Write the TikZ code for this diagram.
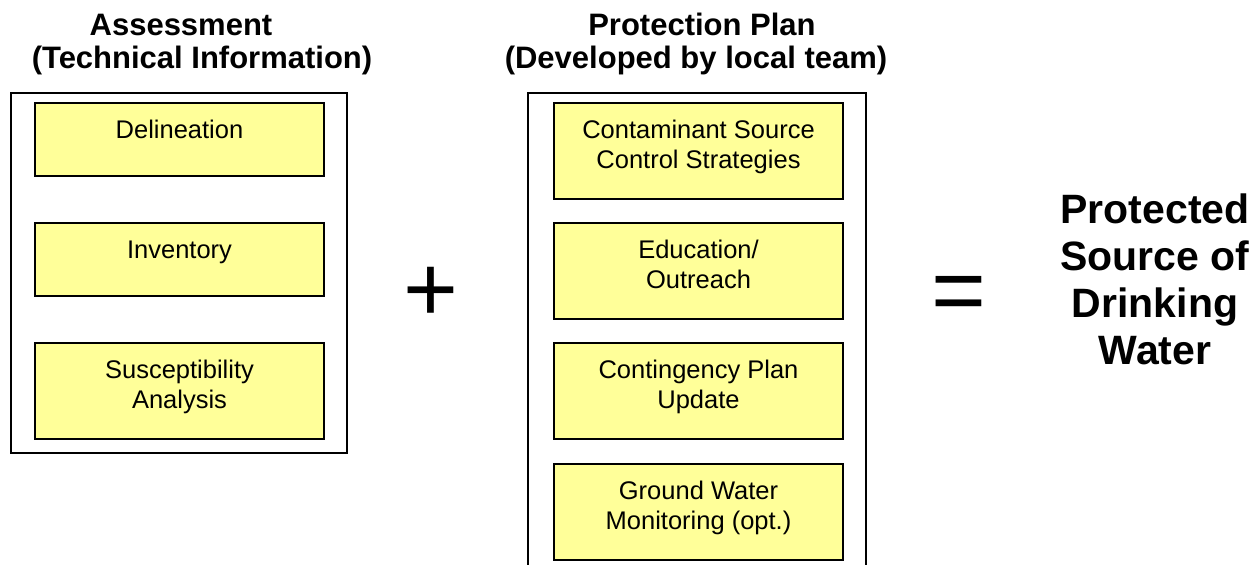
\documentclass[tikz,border=0pt]{standalone}
\usepackage{fontspec}
\setmainfont{Liberation Sans}
\usetikzlibrary{calc}
\definecolor{boxyellow}{HTML}{FFFF99}
\tikzset{
  outerbox/.style={draw=black, line width=2.4pt, fill=white},
  ybox/.style={draw=black, line width=2pt, fill=boxyellow, rectangle, inner sep=0pt, anchor=north west},
  boxtext/.style={anchor=base, inner sep=0pt, font=\fontsize{25.5}{30}\selectfont},
  titletext/.style={anchor=base, inner sep=0pt, font=\fontsize{31}{33}\selectfont\bfseries},
  bigtext/.style={anchor=base, inner sep=0pt, font=\fontsize{41}{47}\selectfont\bfseries},
  optext/.style={anchor=base, inner sep=0pt, font=\fontsize{94}{100}\selectfont},
}
\begin{document}
\begin{tikzpicture}[x=1pt, y=-1pt]
\useasboundingbox (0,0) rectangle (1254,565);
\fill[white] (0,0) rectangle (1254,565);

% titles
\node[titletext] (t1a) at (181,35) {Assessment};
\node[titletext] (t1b) at (202,68) {(Technical Information)};
\node[titletext] (t2a) at (702,35) {Protection Plan};
\node[titletext] (t2b) at (696,68) {(Developed by local team)};

% left outer box
\draw[outerbox] (11,93) rectangle (347,453);
% right outer box (runs off the bottom edge)
\begin{scope}
\clip (0,0) rectangle (1254,565);
\draw[outerbox] (528,575) -- (528,93) -- (866,93) -- (866,575);
\end{scope}

% left inner boxes
\node[ybox, minimum width=289pt, minimum height=73pt] (del) at (34,102) {};
\node[ybox, minimum width=289pt, minimum height=73pt] (inv) at (34,222) {};
\node[ybox, minimum width=289pt, minimum height=96pt] (sus) at (34,342) {};
\node[boxtext] (delt) at ($(del.north)+(0,36)$) {Delineation};
\node[boxtext] (invt) at ($(inv.north)+(0,36)$) {Inventory};
\node[boxtext] (sust1) at ($(sus.north)+(0,36)$) {Susceptibility};
\node[boxtext] (sust2) at ($(sus.north)+(0,66)$) {Analysis};

% right inner boxes
\node[ybox, minimum width=289pt, minimum height=96pt] (con) at (553,102) {};
\node[ybox, minimum width=289pt, minimum height=96pt] (edu) at (553,222) {};
\node[ybox, minimum width=289pt, minimum height=96pt] (cnt) at (553,342) {};
\node[ybox, minimum width=289pt, minimum height=96pt] (gwm) at (553,463) {};
\node[boxtext] (cont1) at ($(con.north)+(0,36)$) {Contaminant Source};
\node[boxtext] (cont2) at ($(con.north)+(0,66)$) {Control Strategies};
\node[boxtext] (edut1) at ($(edu.north)+(0,36)$) {Education/};
\node[boxtext] (edut2) at ($(edu.north)+(0,66)$) {Outreach};
\node[boxtext] (cntt1) at ($(cnt.north)+(0,36)$) {Contingency Plan};
\node[boxtext] (cntt2) at ($(cnt.north)+(0,66)$) {Update};
\node[boxtext] (gwmt1) at ($(gwm.north)+(0,36)$) {Ground Water};
\node[boxtext] (gwmt2) at ($(gwm.north)+(0,66)$) {Monitoring (opt.)};

% operators
\node[optext] (plus) at (431,321) {+};
\node[optext] (equals) at (959,322) {=};

% result
\node[bigtext] (r1) at (1155,223) {Protected};
\node[bigtext] (r2) at (1155,270) {Source of};
\node[bigtext] (r3) at (1155,317) {Drinking};
\node[bigtext] (r4) at (1155,364) {Water};
\end{tikzpicture}
\end{document}
